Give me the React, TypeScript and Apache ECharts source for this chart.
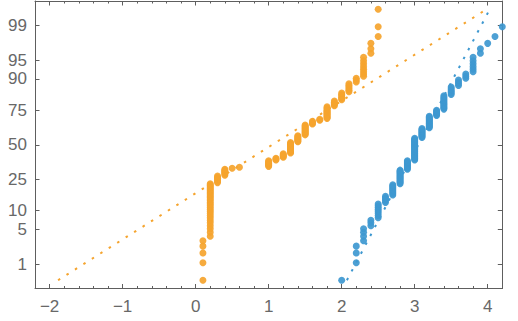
import React, { useEffect, useRef } from "react";
import * as echarts from "echarts";

const petalValues = [0.1, 0.2, 0.3, 0.4, 0.5, 0.6, 1.0, 1.1, 1.2, 1.3, 1.4, 1.5, 1.6, 1.7, 1.8, 1.9, 2.0, 2.1, 2.2, 2.3, 2.4, 2.5];
const petalCounts = [5, 29, 7, 7, 1, 1, 7, 3, 5, 13, 8, 12, 4, 2, 12, 5, 6, 6, 3, 8, 3, 3];
const sepalValues = [2.0, 2.2, 2.3, 2.4, 2.5, 2.6, 2.7, 2.8, 2.9, 3.0, 3.1, 3.2, 3.3, 3.4, 3.5, 3.6, 3.7, 3.8, 3.9, 4.0, 4.1, 4.2, 4.4];
const sepalCounts = [1, 3, 4, 3, 8, 5, 9, 14, 10, 26, 11, 13, 6, 12, 6, 4, 3, 6, 2, 1, 1, 1, 1];

const percentTicks = [1, 5, 10, 25, 50, 75, 90, 95, 99];
const xMajorTicks = [-2, -1, 0, 1, 2, 3, 4];
const xMinorStep = 0.2;

const ORANGE = "#F5A42E";
const BLUE = "#3E98D0";
const FRAME = "#5e5e5e";
const LABEL = "#686868";
const FONT = "'Liberation Sans', Arial, sans-serif";

// inverse standard normal CDF (Acklam)
function probit(p: number): number {
  const a = [-3.969683028665376e1, 2.209460984245205e2, -2.759285104469687e2, 1.38357751867269e2, -3.066479806614716e1, 2.506628277459239];
  const b = [-5.447609879822406e1, 1.615858368580409e2, -1.556989798598866e2, 6.680131188771972e1, -1.328068155288572e1];
  const c = [-7.784894002430293e-3, -3.223964580411365e-1, -2.400758277161838, -2.549732539343734, 4.374664141464968, 2.938163982698783];
  const d = [7.784695709041462e-3, 3.224671290700398e-1, 2.445134137142996, 3.754408661907416];
  const plow = 0.02425;
  const phigh = 1 - plow;
  let q: number, r: number;
  if (p < plow) {
    q = Math.sqrt(-2 * Math.log(p));
    return (((((c[0] * q + c[1]) * q + c[2]) * q + c[3]) * q + c[4]) * q + c[5]) / ((((d[0] * q + d[1]) * q + d[2]) * q + d[3]) * q + 1);
  }
  if (p <= phigh) {
    q = p - 0.5;
    r = q * q;
    return ((((((a[0] * r + a[1]) * r + a[2]) * r + a[3]) * r + a[4]) * r + a[5]) * q) / (((((b[0] * r + b[1]) * r + b[2]) * r + b[3]) * r + b[4]) * r + 1);
  }
  q = Math.sqrt(-2 * Math.log(1 - p));
  return -(((((c[0] * q + c[1]) * q + c[2]) * q + c[3]) * q + c[4]) * q + c[5]) / ((((d[0] * q + d[1]) * q + d[2]) * q + d[3]) * q + 1);
}

function expand(values: number[], counts: number[]): number[] {
  const out: number[] = [];
  values.forEach((v, i) => {
    for (let k = 0; k < counts[i]; k++) out.push(v);
  });
  return out;
}

// Blom plotting positions on probit scale
function probPoints(sorted: number[]): number[][] {
  const n = sorted.length;
  return sorted.map((v, i) => [v, probit((i + 1 - 0.375) / (n + 0.25))]);
}

function quantile(sorted: number[], q: number): number {
  const n = sorted.length;
  const pos = n * q + 0.5;
  const lo = Math.max(1, Math.min(n, Math.floor(pos)));
  const hi = Math.max(1, Math.min(n, Math.ceil(pos)));
  const f = pos - Math.floor(pos);
  return sorted[lo - 1] + (sorted[hi - 1] - sorted[lo - 1]) * f;
}

// reference line through quartiles spanning the plotted probabilities
function refLine(sorted: number[]): number[][] {
  const n = sorted.length;
  const q1 = quantile(sorted, 0.25);
  const q3 = quantile(sorted, 0.75);
  const z1 = probit(0.25);
  const z3 = probit(0.75);
  const slope = (q3 - q1) / (z3 - z1);
  const zLo = probit((1 - 0.375) / (n + 0.25));
  const zHi = probit((n - 0.375) / (n + 0.25));
  return [
    [q1 + (zLo - z1) * slope, zLo],
    [q1 + (zHi - z1) * slope, zHi],
  ];
}

export default function App() {
  const ref = useRef<HTMLDivElement>(null);

  useEffect(() => {
    if (!ref.current) return;
    const chart = echarts.init(ref.current, undefined, { renderer: "svg" });

    const petal = expand(petalValues, petalCounts);
    const sepal = expand(sepalValues, sepalCounts);
    const zTicks = percentTicks.map((p) => probit(p / 100));
    const xMin = -2.2;
    const xMax = 4.2;
    const xMinor: number[] = [];
    for (let k = Math.ceil(xMin / xMinorStep); k * xMinorStep <= xMax + 1e-9; k++) {
      xMinor.push(Math.round(k * xMinorStep * 10) / 10);
    }

    const baseX = {
      type: "value" as const,
      min: xMin,
      max: xMax,
      splitLine: { show: false },
    };
    const baseY = {
      type: "value" as const,
      min: -2.8,
      max: 2.8,
      splitLine: { show: false },
    };
    const lbl = { color: LABEL, fontSize: 17, fontFamily: FONT };

    chart.setOption({
      animation: false,
      backgroundColor: "#ffffff",
      grid: { left: 35, right: 15.7, top: 1, bottom: 32.5, containLabel: false },
      xAxis: [
        {
          ...baseX,
          position: "bottom",
          axisLine: { show: true, onZero: false, lineStyle: { color: FRAME, width: 1 } },
          axisTick: { show: true, inside: true, length: 4.5, customValues: xMajorTicks, lineStyle: { color: FRAME } },
          axisLabel: {
            ...lbl,
            margin: 9,
            customValues: xMajorTicks,
            formatter: (v: number) => (v < 0 ? "\u2212" + Math.abs(v) : String(v)),
          },
        },
        {
          ...baseX,
          position: "bottom",
          axisLine: { show: false, onZero: false },
          axisTick: { show: true, inside: true, length: 2.5, customValues: xMinor, lineStyle: { color: FRAME } },
          axisLabel: { show: false },
        },
        {
          ...baseX,
          position: "top",
          axisLine: { show: true, onZero: false, lineStyle: { color: FRAME, width: 1 } },
          axisTick: { show: true, inside: true, length: 4.5, customValues: xMajorTicks, lineStyle: { color: FRAME } },
          axisLabel: { show: false },
        },
        {
          ...baseX,
          position: "top",
          axisLine: { show: false, onZero: false },
          axisTick: { show: true, inside: true, length: 2.5, customValues: xMinor, lineStyle: { color: FRAME } },
          axisLabel: { show: false },
        },
      ],
      yAxis: [
        {
          ...baseY,
          position: "left",
          axisLine: { show: true, onZero: false, lineStyle: { color: FRAME, width: 1 } },
          axisTick: { show: true, inside: true, length: 4.5, customValues: zTicks, lineStyle: { color: FRAME } },
          axisLabel: {
            ...lbl,
            margin: 8,
            customValues: zTicks,
            hideOverlap: false,
            formatter: (v: number) => {
              const i = zTicks.findIndex((z) => Math.abs(z - v) < 1e-6);
              return i >= 0 ? String(percentTicks[i]) : "";
            },
          },
        },
        {
          ...baseY,
          position: "right",
          axisLine: { show: true, onZero: false, lineStyle: { color: FRAME, width: 1 } },
          axisTick: { show: true, inside: true, length: 4.5, customValues: zTicks, lineStyle: { color: FRAME } },
          axisLabel: { show: false },
        },
      ],
      series: [
        {
          type: "scatter",
          xAxisIndex: 0,
          yAxisIndex: 0,
          data: probPoints(petal),
          symbol: "circle",
          symbolSize: 7,
          itemStyle: { color: ORANGE, opacity: 0.92 },
          clip: true,
          z: 2,
        },
        {
          type: "scatter",
          xAxisIndex: 0,
          yAxisIndex: 0,
          data: probPoints(sepal),
          symbol: "circle",
          symbolSize: 7,
          itemStyle: { color: BLUE, opacity: 0.92 },
          clip: true,
          z: 2,
        },
        {
          type: "line",
          xAxisIndex: 0,
          yAxisIndex: 0,
          data: refLine(petal),
          symbol: "none",
          silent: true,
          lineStyle: { color: ORANGE, width: 2, type: [2.5, 7.5] },
          z: 3,
        },
        {
          type: "line",
          xAxisIndex: 0,
          yAxisIndex: 0,
          data: refLine(sepal),
          symbol: "none",
          silent: true,
          lineStyle: { color: BLUE, width: 2, type: [2.5, 7.5] },
          z: 3,
        },
      ],
    });

    return () => chart.dispose();
  }, []);

  return (
    <div
      ref={ref}
      style={{ position: "absolute", left: 0, top: 0, width: 518, height: 321, background: "#fff" }}
    />
  );
}
